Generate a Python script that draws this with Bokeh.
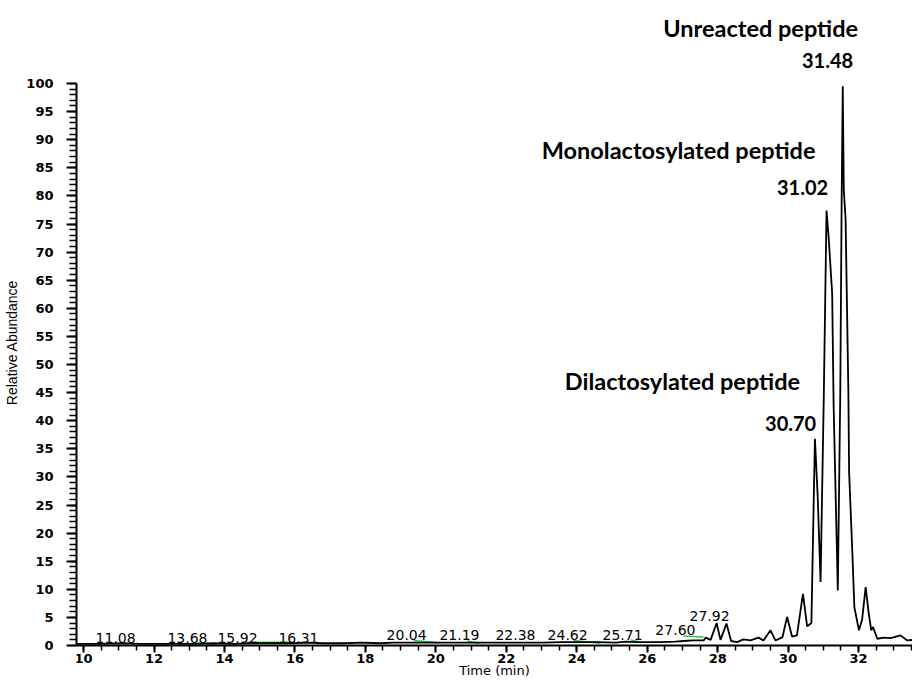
from bokeh.plotting import figure
from bokeh.models import ColumnDataSource, SingleIntervalTicker, FixedTicker, Range1d, LinearAxis
from bokeh.core.properties import value
from bokeh.embed import file_html
from bokeh.resources import INLINE

# ---- chromatogram trace (time in min, relative abundance in %) ----
time_min = [9.80, 10.5, 11.08, 11.6, 12.5, 13.2, 13.68, 14.3, 14.7, 15.3, 15.92, 16.31,
            16.8, 17.4, 17.9, 18.4, 18.8, 19.4, 20.04, 20.6, 21.19, 21.8, 22.38, 23.0,
            23.6, 24.2, 24.62, 25.1, 25.4, 25.71, 26.0, 26.4, 26.8, 27.03, 27.3, 27.6,
            27.66, 27.80, 27.97, 28.08, 28.25, 28.38, 28.55, 28.73, 28.93, 29.16, 29.30,
            29.50, 29.64, 29.84, 29.97, 30.11, 30.25, 30.42, 30.54, 30.66, 30.76, 30.84,
            30.92, 31.01, 31.09, 31.15, 31.25, 31.29, 31.41, 31.48, 31.52, 31.55, 31.58,
            31.63, 31.71, 31.73, 31.82, 31.88, 32.01, 32.10, 32.20, 32.29, 32.36, 32.41,
            32.53, 32.72, 32.91, 33.19, 33.38, 33.56]
rel_abund = [0.3, 0.3, 0.4, 0.3, 0.3, 0.3, 0.4, 0.3, 0.4, 0.4, 0.4, 0.5,
             0.4, 0.4, 0.5, 0.4, 0.5, 0.5, 0.5, 0.5, 0.5, 0.5, 0.5, 0.5,
             0.6, 0.6, 0.6, 0.5, 0.7, 0.6, 0.6, 0.6, 0.7, 0.8, 0.9, 0.9,
             1.4, 1.0, 4.0, 1.0, 3.9, 0.8, 0.6, 1.1, 0.9, 1.4, 0.9,
             2.7, 0.9, 1.5, 5.1, 1.6, 1.8, 9.2, 3.4, 4.0, 36.8, 26.4,
             11.3, 43.6, 77.4, 72.6, 62.6, 43.0, 9.8, 45.0, 80.0, 99.5, 81.0,
             76.0, 45.0, 31.0, 16.9, 6.8, 2.7, 4.6, 10.4, 5.6, 2.7, 3.3,
             1.2, 1.4, 1.3, 1.8, 0.9, 1.0]

# ---- integration baselines (green) ----
base_t0 = [13.18, 14.65, 19.37, 20.90, 23.91, 25.53, 27.03]
base_v0 = [0.5, 0.6, 0.9, 0.8, 0.9, 1.0, 1.7]
base_t1 = [13.75, 15.96, 20.08, 21.21, 24.68, 25.81, 27.60]
base_v1 = [0.2, 0.6, 0.5, 0.4, 0.4, 0.6, 1.5]

# ---- small retention-time labels ----
rt_labels = ["11.08", "13.68", "15.92", "16.31", "20.04", "21.19", "22.38",
             "24.62", "25.71", "27.60", "27.92"]
rt_label_t = [10.91, 12.95, 14.37, 16.10, 19.17, 20.67, 22.26, 23.74, 25.30, 26.80, 27.77]
rt_label_v = [1.4, 1.4, 1.4, 1.4, 1.8, 1.8, 1.8, 1.8, 1.8, 2.7, 5.2]

# ---- peak annotations ----
peak_names = ["Unreacted peptide", "Monolactosylated peptide", "Dilactosylated peptide"]
peak_name_t = [29.22, 26.89, 27.00]
peak_name_v = [109.9, 88.1, 47.0]
peak_rts = ["31.48", "31.02", "30.70"]
peak_rt_t = [31.12, 30.41, 30.07]
peak_rt_v = [104.1, 81.5, 39.5]

# ---- axis ticks ----
y_major = list(range(0, 101, 5))
y_minor = list(range(0, 101, 1))

p = figure(width=912, height=679,
           x_range=Range1d(9.80, 33.53), y_range=Range1d(-6.05, 113.88),
           output_backend="svg", toolbar_location=None,
           x_axis_location=None,
           min_border_left=76, min_border_right=0, min_border_top=5, min_border_bottom=0)

p.outline_line_color = None
p.xgrid.visible = False
p.ygrid.visible = False
p.background_fill_color = "white"
p.border_fill_color = "white"

xaxis = LinearAxis(fixed_location=0)
p.add_layout(xaxis, "below")

xaxis.ticker = SingleIntervalTicker(interval=2, num_minor_ticks=4)
p.yaxis.ticker = FixedTicker(ticks=y_major, minor_ticks=y_minor)
p.yaxis.bounds = (0, 100)
for ax in (xaxis, p.yaxis[0]):
    ax.axis_line_width = 2
    ax.axis_line_color = "black"
    ax.major_tick_line_width = 2
    ax.minor_tick_line_width = 1.5
    ax.major_tick_line_color = "black"
    ax.minor_tick_line_color = "black"
    ax.major_tick_in = 0
    ax.minor_tick_in = 0
    ax.major_label_text_font = "DejaVu Sans"
    ax.major_label_text_font_style = "bold"
    ax.major_label_text_font_size = "13px"
    ax.major_label_text_color = "black"
    ax.axis_label_text_font_style = "normal"
    ax.axis_label_text_color = "black"

p.yaxis.major_tick_out = 10
p.yaxis.minor_tick_out = 7
p.yaxis.major_label_standoff = 13
p.yaxis.axis_label = "Relative Abundance"
p.yaxis.axis_label_text_font = "Liberation Sans"
p.yaxis.axis_label_text_font_size = "14px"
p.yaxis.axis_label_standoff = 3

xaxis.major_tick_out = 7
xaxis.minor_tick_out = 5
xaxis.major_label_standoff = 2
xaxis.axis_label = "Time (min)"
xaxis.axis_label_text_font = "DejaVu Sans"
xaxis.axis_label_text_font_size = "13px"
xaxis.axis_label_standoff = -4

# green baselines
p.segment(x0=base_t0, y0=base_v0, x1=base_t1, y1=base_v1,
          line_color="#22c83c", line_width=1.5)

# trace
p.line(time_min, rel_abund, line_color="black", line_width=1.8)

# small rt labels
rt_src = ColumnDataSource(dict(x=rt_label_t, y=rt_label_v, t=rt_labels))
p.text(x="x", y="y", text="t", source=rt_src, text_align="center", text_baseline="middle",
       text_font=value("DejaVu Sans"), text_font_size="14px", text_color="black")

# big annotations
nm_src = ColumnDataSource(dict(x=peak_name_t, y=peak_name_v, t=peak_names))
p.text(x="x", y="y", text="t", source=nm_src, text_align="center", text_baseline="middle",
       text_font=value("Lato"), text_font_style="bold", text_font_size="23.5px", text_color="black")
pr_src = ColumnDataSource(dict(x=peak_rt_t, y=peak_rt_v, t=peak_rts))
p.text(x="x", y="y", text="t", source=pr_src, text_align="center", text_baseline="middle",
       text_font=value("Lato"), text_font_style="bold", text_font_size="20px", text_color="black")

open("out.html", "w").write(file_html(p, INLINE))
